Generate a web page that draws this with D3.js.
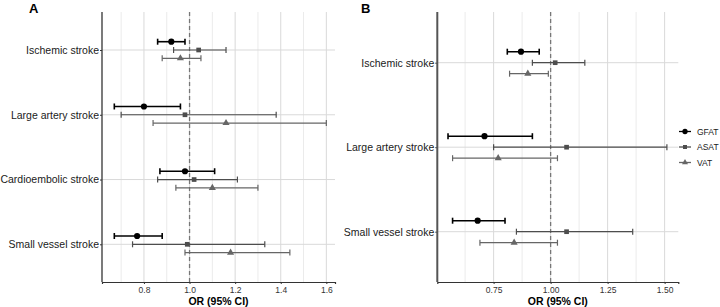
<!DOCTYPE html>
<html>
<head>
<meta charset="utf-8">
<script src="https://cdn.jsdelivr.net/npm/d3@7"></script>
<style>
body{margin:0;background:#fff;}
text{font-family:"Liberation Sans",Arial,sans-serif;}
</style>
</head>
<body>
<svg id="chart" width="720" height="307"></svg>
<script>
var seriesNames=["GFAT","ASAT","VAT"];
var seriesColors=["#000000","#4d4d4d","#666666"];

// panel A
var catsA=["Ischemic stroke","Large artery stroke","Cardioembolic stroke","Small vessel stroke"];
var gfatA=[0.92,0.80,0.98,0.77];
var gfatLoA=[0.86,0.67,0.87,0.67];
var gfatHiA=[0.98,0.96,1.11,0.88];
var asatA=[1.04,0.98,1.02,0.99];
var asatLoA=[0.93,0.70,0.86,0.75];
var asatHiA=[1.16,1.38,1.21,1.33];
var vatA=[0.96,1.16,1.10,1.18];
var vatLoA=[0.88,0.84,0.94,0.98];
var vatHiA=[1.05,1.60,1.30,1.44];
var ticksA=[0.8,1.0,1.2,1.4,1.6];

// panel B
var catsB=["Ischemic stroke","Large artery stroke","Small vessel stroke"];
var gfatB=[0.87,0.71,0.68];
var gfatLoB=[0.81,0.55,0.57];
var gfatHiB=[0.95,0.92,0.80];
var asatB=[1.02,1.07,1.07];
var asatLoB=[0.92,0.75,0.85];
var asatHiB=[1.15,1.51,1.36];
var vatB=[0.90,0.77,0.84];
var vatLoB=[0.82,0.57,0.69];
var vatHiB=[0.99,1.03,1.03];
var ticksB=[0.75,1.00,1.25,1.50];

var svg=d3.select("#chart");

function drawPanel(o){
	var g=svg.append("g");
	var x=d3.scaleLinear().domain(o.domain).range([o.left,o.right]);
	var y=d3.scalePoint().domain(o.cats).range([o.rowTop,o.rowBottom]);

	// grid
	var minor=[];
	for(var i=0;i<o.ticks.length;i++){
		var v=o.ticks[i]-o.step/2;
		if(v>o.domain[0]) minor.push(v);
	}
	minor.push(o.ticks[o.ticks.length-1]+o.step/2);
	minor=minor.filter(function(v){return v<o.domain[1];});
	g.selectAll(".minor").data(minor).enter().append("line")
		.attr("x1",function(d){return x(d);}).attr("x2",function(d){return x(d);})
		.attr("y1",o.top).attr("y2",o.bottom)
		.attr("stroke","#ebebeb").attr("stroke-width",1);
	g.selectAll(".major").data(o.ticks).enter().append("line")
		.attr("x1",function(d){return x(d);}).attr("x2",function(d){return x(d);})
		.attr("y1",o.top).attr("y2",o.bottom)
		.attr("stroke","#d9d9d9").attr("stroke-width",1);
	g.selectAll(".hgrid").data(o.cats).enter().append("line")
		.attr("x1",o.left).attr("x2",o.right)
		.attr("y1",function(d){return y(d);}).attr("y2",function(d){return y(d);})
		.attr("stroke","#d9d9d9").attr("stroke-width",1);

	// reference line
	g.append("line").attr("x1",x(1)).attr("x2",x(1)).attr("y1",o.top).attr("y2",o.bottom)
		.attr("stroke","#777").attr("stroke-width",1.3).attr("stroke-dasharray","4,3");

	// series
	var offs=[-o.off,0,o.off];
	o.series.forEach(function(s,si){
		var sg=g.append("g");
		var rows=o.cats.map(function(c,i){return {c:c,v:s.v[i],lo:s.lo[i],hi:s.hi[i]};});
		var yy=function(d){return y(d.c)+offs[si];};
		var sw=si==0?1.6:1.2;
		sg.selectAll(".ci").data(rows).enter().append("line")
			.attr("x1",function(d){return x(d.lo);}).attr("x2",function(d){return x(d.hi);})
			.attr("y1",yy).attr("y2",yy).attr("stroke",seriesColors[si]).attr("stroke-width",sw);
		sg.selectAll(".capl").data(rows).enter().append("line")
			.attr("x1",function(d){return x(d.lo);}).attr("x2",function(d){return x(d.lo);})
			.attr("y1",function(d){return yy(d)-3;}).attr("y2",function(d){return yy(d)+3;})
			.attr("stroke",seriesColors[si]).attr("stroke-width",sw);
		sg.selectAll(".capr").data(rows).enter().append("line")
			.attr("x1",function(d){return x(d.hi);}).attr("x2",function(d){return x(d.hi);})
			.attr("y1",function(d){return yy(d)-3;}).attr("y2",function(d){return yy(d)+3;})
			.attr("stroke",seriesColors[si]).attr("stroke-width",sw);
		var sym=[d3.symbolCircle,d3.symbolSquare,d3.symbolTriangle][si];
		var size=[30,22,22][si];
		sg.selectAll(".pt").data(rows).enter().append("path")
			.attr("d",d3.symbol().type(sym).size(size))
			.attr("transform",function(d){return "translate("+x(d.v)+","+yy(d)+")";})
			.attr("fill",seriesColors[si]);
	});

	// axes
	var xa=g.append("g").attr("transform","translate(0,"+o.bottom+")")
		.call(d3.axisBottom(x).tickValues(o.ticks).tickFormat(d3.format(o.fmt)).tickSize(2).tickPadding(3));
	xa.select(".domain").attr("stroke","#333").attr("stroke-width",1.2);
	xa.selectAll(".tick line").attr("stroke","#333");
	xa.selectAll("text").attr("font-size","8.5px").attr("fill","#333")
		.attr("font-family","Liberation Sans, Arial, sans-serif");

	var ya=g.append("g").attr("transform","translate("+o.left+",0)")
		.call(d3.axisLeft(y).tickSize(2).tickPadding(1));
	ya.select(".domain").remove();
	g.append("line").attr("x1",o.left).attr("x2",o.left).attr("y1",o.top).attr("y2",o.bottom)
		.attr("stroke",o.yAxisColor).attr("stroke-width",o.yAxisWidth);
	ya.selectAll(".tick line").attr("stroke","#333");
	ya.selectAll("text").attr("font-size","10.5px").attr("fill","#1a1a1a")
		.attr("font-family","Liberation Sans, Arial, sans-serif");

	g.append("text").attr("x",(o.left+o.right)/2).attr("y",305)
		.attr("text-anchor","middle").attr("font-size","10.5px").attr("font-weight","bold")
		.text("OR (95% CI)");
	g.append("text").attr("x",o.labelX).attr("y",13)
		.attr("font-size","13px").attr("font-weight","bold").text(o.label);
}

drawPanel({
	label:"A",labelX:29,cats:catsA,ticks:ticksA,step:0.2,fmt:".1f",
	domain:[0.616,1.638],left:102,right:335,top:12,bottom:282,
	rowTop:50,rowBottom:244.3,off:8.3,yAxisColor:"#333",yAxisWidth:1.3,
	series:[{v:gfatA,lo:gfatLoA,hi:gfatHiA},{v:asatA,lo:asatLoA,hi:asatHiA},{v:vatA,lo:vatLoA,hi:vatHiA}]
});
drawPanel({
	label:"B",labelX:361,cats:catsB,ticks:ticksB,step:0.25,fmt:".2f",
	domain:[0.503,1.56],left:437.3,right:678.3,top:12,bottom:282,
	rowTop:62.7,rowBottom:231.7,off:11,yAxisColor:"#555",yAxisWidth:2,
	series:[{v:gfatB,lo:gfatLoB,hi:gfatHiB},{v:asatB,lo:asatLoB,hi:asatHiB},{v:vatB,lo:vatLoB,hi:vatHiB}]
});

// legend
var leg=svg.append("g").attr("transform","translate(679,131.5)");
var legItems=leg.selectAll("g").data(seriesNames).enter().append("g")
	.attr("transform",function(d,i){return "translate(0,"+(i*15.5)+")";});
legItems.append("line").attr("x1",0).attr("x2",12).attr("y1",0).attr("y2",0)
	.attr("stroke",function(d,i){return seriesColors[i];}).attr("stroke-width",1.3);
legItems.append("path")
	.attr("d",function(d,i){return d3.symbol().type([d3.symbolCircle,d3.symbolSquare,d3.symbolTriangle][i]).size([22,16,16][i])();})
	.attr("transform","translate(6,0)")
	.attr("fill",function(d,i){return seriesColors[i];});
legItems.append("text").attr("x",18).attr("y",3).attr("font-size","8.5px").attr("fill","#1a1a1a")
	.text(function(d){return d;});
</script>
</body>
</html>
